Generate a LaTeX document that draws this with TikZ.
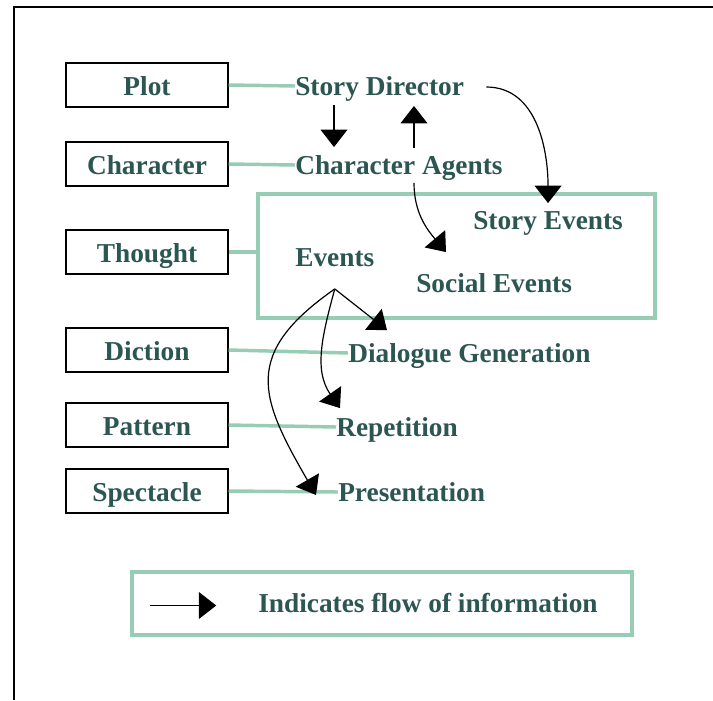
\documentclass[tikz,border=0pt]{standalone}
\usepackage{fontspec}
\setmainfont{Liberation Serif}
\usepackage{xcolor}
\usetikzlibrary{positioning,calc,arrows.meta}
\definecolor{mintgreen}{RGB}{150,205,180}
\definecolor{darkteal}{RGB}{43,86,82}
\tikzstyle{flow} = [black,line width=0.9pt,-{Triangle[length=13pt,width=20pt]}]

\begin{document}
\begin{tikzpicture}[x=0.75pt,y=-0.75pt]
	\tikzstyle{aspect}=[draw=black,line width=0.8pt,minimum width=121.5pt,minimum height=33pt,inner sep=0pt,text height=18pt,text depth=2pt,text=darkteal,font=\bfseries\fontsize{20.5}{24}\selectfont]
	\tikzstyle{part}=[anchor=west,inner sep=0pt,text height=18pt,text depth=4pt,text=darkteal,font=\bfseries\fontsize{20.5}{24}\selectfont]
	\tikzstyle{link}=[draw=mintgreen,line width=2.6pt]
	\useasboundingbox (0,0) rectangle (713,700);
	\draw[line width=1.5pt] (14,700) -- (14,7) -- (713,7);
	\node[aspect]   (plot)  at (147,85)  {Plot};
	\node[aspect]   (char)  at (147,164) {Character};
	\node[aspect]   (thought) at (147,252) {Thought};
	\node[aspect]   (diction) at (147,350) {Diction};
	\node[aspect]   (pattern) at (147,425) {Pattern};
	\node[aspect]   (spect) at (147,491) {Spectacle};
	\node[link,minimum width=297.75pt,minimum height=93pt,inner sep=0pt] (evbox) at (456.5,256) {};
	\node[part]     (stdir) at (295,86)  {Story Director};
	\node[part]     (chag)  at (295,165) {Character Agents};
	\node[part]     (stev)  at (473,220) {Story Events};
	\node[part]     (events) at (295,257) {Events};
	\node[part]     (socev) at (416,283) {Social Events};
	\node[part]     (dialog) at (348,353) {Dialogue Generation};
	\node[part]     (rep)   at (336,427) {Repetition};
	\node[part]     (pres)  at (338,492) {Presentation};
	\coordinate (evfork) at ($(events.south)+(0,17)$);
	\path[link]
	(plot.east) edge (stdir.west)
	(char.east) edge (chag.west)
	(thought.east) edge (thought.east -| evbox.west)
	(diction.east) edge (dialog.west)
	(pattern.east) edge (rep.west)
	(spect.east) edge (pres.west);
	\draw[flow] ($(stdir.south west)+(39,4)$) -- ($(chag.north west)+(39,-3)$);
	\draw[flow] ($(chag.north west)+(119,-2)$) -- ($(stdir.south west)+(119,5)$);
	\draw[flow] ($(stdir.east)+(22,1)$) to[out=0,in=90] ($(stev.north)+(0,-2)$);
	\draw[flow] ($(chag.south west)+(119,3)$) to[out=-90,in=130] ($(socev.north west)+(30,-16)$);
	\draw[flow] (evfork) -- ($(dialog.north west)+(39,-8)$);
	\draw[flow] (evfork) to[out=-105,in=125] ($(rep.north west)+(4,-4)$);
	\draw[flow] (evfork) to[out=-145,in=120,looseness=1.4] ($(pres.west)+(-22,3)$);
	\node[link,minimum width=375pt,minimum height=47.25pt,inner sep=0pt] (legend) at (382,603.5) {};
	\draw[flow] ($(legend.west)+(20,2)$) -- ($(legend.west)+(86,2)$);
	\node[part]     (legtext) at (258,603) {Indicates flow of information};
\end{tikzpicture}
\end{document}
